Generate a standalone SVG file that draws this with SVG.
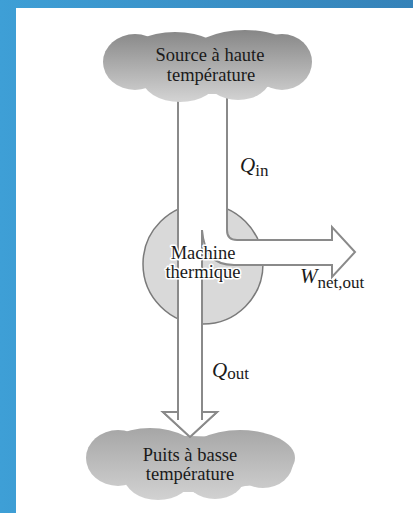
<svg xmlns="http://www.w3.org/2000/svg" width="413" height="513" viewBox="0 0 413 513">
  <defs>
    <linearGradient id="frame" x1="0" y1="0" x2="413" y2="0" gradientUnits="userSpaceOnUse">
      <stop offset="0" stop-color="#3e9fd6"/>
      <stop offset="1" stop-color="#3582b8"/>
    </linearGradient>
    <linearGradient id="hotFill" x1="0" y1="30" x2="0" y2="102" gradientUnits="userSpaceOnUse">
      <stop offset="0" stop-color="#868686"/>
      <stop offset="1" stop-color="#d4d4d4"/>
    </linearGradient>
    <linearGradient id="coldFill" x1="0" y1="428" x2="0" y2="500" gradientUnits="userSpaceOnUse">
      <stop offset="0" stop-color="#a6a6a6"/>
      <stop offset="1" stop-color="#d2d2d2"/>
    </linearGradient>
    <style>
      .lbl { font-family: "Liberation Serif", "Times New Roman", serif; font-size: 18.5px; fill: #1a1a1a; text-anchor: middle; }
      .halo { stroke: #ffffff; stroke-width: 3px; paint-order: stroke; stroke-linejoin: round; }
      .sym { font-family: "Liberation Serif", "Times New Roman", serif; font-size: 21px; font-style: italic; fill: #1a1a1a; }
      .sub { font-size: 17px; font-style: normal; }
      .flow { fill: #ffffff; stroke: #8a8a8a; stroke-width: 2; stroke-linejoin: miter; }
    </style>
  </defs>

  <!-- page frame -->
  <rect x="0" y="0" width="413" height="513" fill="url(#frame)"/>
  <rect x="16" y="8" width="397" height="505" fill="#ffffff"/>

  <!-- heat engine body -->
  <g id="engine">
    <circle cx="203" cy="264" r="60" fill="#d9d9d9" stroke="#7a7a7a" stroke-width="1.5"/>
  </g>

  <!-- energy flows: Q_in splits into W_net,out and Q_out -->
  <g id="connectors">
    <path class="flow" d="M178,88 L178,412 L163,412 L190,437 L217,412 L202,412 L202,230
             C204,252 212,265 234,265 L332,265 L332,277 L355,252 L332,227 L332,240
             L237,240 Q227,240 227,230 L227,88"/>
  </g>

  <!-- high temperature source -->
  <g id="source" fill="url(#hotFill)">
    <ellipse cx="135" cy="62" rx="32" ry="28"/>
    <ellipse cx="175" cy="58" rx="50" ry="26"/>
    <ellipse cx="245" cy="56" rx="55" ry="26"/>
    <ellipse cx="282" cy="62" rx="30" ry="28"/>
    <ellipse cx="180" cy="78" rx="38" ry="24"/>
    <ellipse cx="238" cy="78" rx="32" ry="22"/>
    <ellipse cx="208" cy="66" rx="90" ry="28"/>
    <text class="lbl" x="210" y="61">Source à haute</text>
    <text class="lbl" x="211" y="81">température</text>
  </g>

  <!-- low temperature sink -->
  <g id="sink" fill="url(#coldFill)">
    <ellipse cx="118" cy="458" rx="32" ry="28"/>
    <ellipse cx="150" cy="456" rx="50" ry="28"/>
    <ellipse cx="240" cy="458" rx="55" ry="28"/>
    <ellipse cx="263" cy="462" rx="30" ry="26"/>
    <ellipse cx="158" cy="476" rx="34" ry="24"/>
    <ellipse cx="215" cy="476" rx="30" ry="23"/>
    <ellipse cx="190" cy="464" rx="90" ry="28"/>
    <text class="lbl" x="190" y="461">Puits à basse</text>
    <text class="lbl" x="190" y="480">température</text>
  </g>

  <!-- arrow tip drawn again on top of the sink -->
  <g id="sink-tip">
    <path class="flow" d="M178,420 L178,412 L163,412 L190,437 L217,412 L202,412 L202,420"/>
    <rect x="179" y="411" width="22" height="10" fill="#ffffff"/>
  </g>

  <g id="engine-label">
    <text class="lbl halo" x="203" y="259">Machine</text>
    <text class="lbl halo" x="203" y="278">thermique</text>
  </g>

  <g id="labels">
    <text class="sym" x="240" y="172">Q<tspan class="sub" dy="4">in</tspan></text>
    <text class="sym" x="300" y="283">W<tspan class="sub" dy="5">net,out</tspan></text>
    <text class="sym" x="212" y="377">Q<tspan class="sub" dy="2">out</tspan></text>
  </g>
</svg>
